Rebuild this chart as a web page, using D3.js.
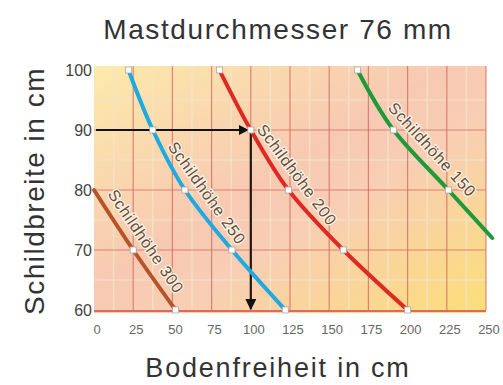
<!DOCTYPE html>
<html>
<head>
<meta charset="utf-8">
<script src="https://cdn.jsdelivr.net/npm/d3@7"></script>
<style>
  body { margin: 0; background: #fff; }
  text { font-family: "Liberation Sans", Arial, sans-serif; }
</style>
</head>
<body>
<svg></svg>
<script>
var width = 503;
var height = 385;

// chart data
var xTicks = [0, 25, 50, 75, 100, 125, 150, 175, 200, 225, 250];
var yTicks = [60, 70, 80, 90, 100];

var hoehe300 = [[0, 80], [25, 70], [52, 60]];
var hoehe250 = [[22, 100], [37.5, 90], [58, 80], [88, 70], [122, 60]];
var hoehe200 = [[80, 100], [100, 90], [124, 80], [159, 70], [200, 60]];
var hoehe150 = [[168, 100], [191, 90], [226, 80], [254, 72]];

var seriesNames = ["Schildhöhe 300", "Schildhöhe 250", "Schildhöhe 200", "Schildhöhe 150"];
var seriesColors = ["#b5532a", "#1ea9e0", "#dd2a22", "#1e9a3c"];
// Schildbreite at which each curve label sits
var labelAt = [70, 78, 81, 85];

// reading example: Schildbreite 90 cm -> Bodenfreiheit 100 cm
var example = [100, 90];

var x = d3.scaleLinear().domain([0, 250]).range([94, 486]);
var y = d3.scaleLinear().domain([60, 100]).range([310, 70]);

var svg = d3.select('svg')
	.attr('width', width)
	.attr('height', height);

var defs = svg.append('defs');
var grad = defs.append('linearGradient')
	.attr('id', 'bg')
	.attr('x1', '0').attr('y1', '0')
	.attr('x2', '1').attr('y2', '1');
grad.append('stop').attr('offset', '0%').attr('stop-color', '#fdeaaa');
grad.append('stop').attr('offset', '45%').attr('stop-color', '#f7c9b2');
grad.append('stop').attr('offset', '60%').attr('stop-color', '#f8ceb4');
grad.append('stop').attr('offset', '100%').attr('stop-color', '#fbdf78');

var marker = defs.append('marker')
	.attr('id', 'arrow')
	.attr('viewBox', '0 0 10 10')
	.attr('refX', 9).attr('refY', 5)
	.attr('markerWidth', 5).attr('markerHeight', 5)
	.attr('orient', 'auto');
marker.append('path').attr('d', 'M0,0 L10,5 L0,10 z').attr('fill', '#111');

// background
svg.append('rect')
	.attr('x', x(0))
	.attr('y', y(100) - 4)
	.attr('width', x(250) - x(0))
	.attr('height', y(60) - y(100) + 7)
	.attr('fill', 'url(#bg)');

var grid = svg.append('g');

// minor grid lines
grid.selectAll('.minorX')
	.data(d3.range(12.5, 250, 25))
	.enter().append('line')
	.attr('x1', d => x(d)).attr('x2', d => x(d))
	.attr('y1', y(100) - 4).attr('y2', y(60))
	.attr('stroke', '#f2e6c8').attr('stroke-width', 1.5).attr('opacity', 0.8);

grid.selectAll('.minorY')
	.data(d3.range(65, 100, 10))
	.enter().append('line')
	.attr('x1', x(0)).attr('x2', x(250))
	.attr('y1', d => y(d)).attr('y2', d => y(d))
	.attr('stroke', '#f2e2c8').attr('stroke-width', 1.5).attr('opacity', 0.8);

// major grid lines
grid.selectAll('.majorX')
	.data(xTicks.slice(1))
	.enter().append('line')
	.attr('x1', d => x(d)).attr('x2', d => x(d))
	.attr('y1', y(100) - 4).attr('y2', y(60))
	.attr('stroke', '#d2605a').attr('stroke-width', 1.2).attr('opacity', 0.7);

grid.selectAll('.majorY')
	.data(yTicks.slice(1, 4))
	.enter().append('line')
	.attr('x1', x(0)).attr('x2', x(250))
	.attr('y1', d => y(d)).attr('y2', d => y(d))
	.attr('stroke', '#d2605a').attr('stroke-width', 1.2).attr('opacity', 0.7);

grid.append('line')
	.attr('x1', x(0)).attr('x2', x(250))
	.attr('y1', y(60) + 1).attr('y2', y(60) + 1)
	.attr('stroke', '#de6a5e').attr('stroke-width', 2);

// reading example arrows
svg.append('line')
	.attr('x1', x(0) + 2).attr('x2', x(example[0]) - 3)
	.attr('y1', y(example[1])).attr('y2', y(example[1]))
	.attr('stroke', '#111').attr('stroke-width', 2)
	.attr('marker-end', 'url(#arrow)');

svg.append('line')
	.attr('x1', x(example[0])).attr('x2', x(example[0]))
	.attr('y1', y(example[1]) + 3).attr('y2', y(60) - 1)
	.attr('stroke', '#241612').attr('stroke-width', 2.2)
	.attr('marker-end', 'url(#arrow)');

// curves
var allSeries = [hoehe300, hoehe250, hoehe200, hoehe150];

var line = d3.line()
	.x(d => x(d[0]))
	.y(d => y(d[1]))
	.curve(d3.curveMonotoneY);

svg.selectAll('.curve')
	.data(allSeries)
	.enter().append('path')
	.attr('d', d => line(d))
	.attr('fill', 'none')
	.attr('stroke', (d, i) => seriesColors[i])
	.attr('stroke-width', 4)
	.attr('stroke-linecap', 'round');

// point markers (only at whole 10 cm steps, not at the edge points)
var pts = [];
allSeries.forEach(function(s, si) {
	s.forEach(function(p, pi) {
		if (p[1] % 10 === 0 && !(si === 0 && pi === 0)) pts.push(p);
	});
});

svg.selectAll('.pt')
	.data(pts)
	.enter().append('rect')
	.attr('x', d => x(d[0]) - 3)
	.attr('y', d => y(d[1]) - 3)
	.attr('width', 6).attr('height', 6)
	.attr('fill', '#fff')
	.attr('stroke', '#aaa')
	.attr('stroke-width', 0.8);

// curve labels, placed parallel to each curve
allSeries.forEach(function(s, i) {
	var v = labelAt[i];
	var along = d3.scaleLinear()
		.domain(s.map(d => d[1]))
		.range(s.map(d => d[0]));
	var px = x(along(v)), py = y(v);
	var ax = x(along(v + 5)), ay = y(v + 5);
	var bx = x(along(v - 5)), by = y(v - 5);
	var ang = Math.atan2(by - ay, bx - ax);
	var off = 14;
	px += Math.sin(ang) * off;
	py -= Math.cos(ang) * off;
	svg.append('text')
		.attr('transform', 'translate(' + px + ',' + py + ') rotate(' + (ang * 180 / Math.PI) + ')')
		.attr('text-anchor', 'middle')
		.attr('dominant-baseline', 'middle')
		.attr('font-size', 16)
		.attr('letter-spacing', 0.8)
		.attr('fill', '#5e4c3c')
		.attr('stroke', '#fff4e6')
		.attr('stroke-width', 2.5)
		.attr('paint-order', 'stroke')
		.text(seriesNames[i]);
});

// tick labels
svg.selectAll('.xt')
	.data(xTicks)
	.enter().append('text')
	.attr('x', d => x(d) + 3)
	.attr('y', 334)
	.attr('text-anchor', 'middle')
	.attr('font-size', 13)
	.attr('fill', '#666')
	.text(d => d);

svg.selectAll('.yt')
	.data(yTicks)
	.enter().append('text')
	.attr('x', 92)
	.attr('y', d => y(d) + 6)
	.attr('text-anchor', 'end')
	.attr('font-size', 16)
	.attr('fill', '#444')
	.text(d => d);

// titles
svg.append('text')
	.attr('x', 278)
	.attr('y', 39)
	.attr('text-anchor', 'middle')
	.attr('font-size', 28)
	.attr('letter-spacing', 1.6)
	.attr('fill', '#333')
	.text('Mastdurchmesser 76 mm');

svg.append('text')
	.attr('x', 278)
	.attr('y', 377)
	.attr('text-anchor', 'middle')
	.attr('font-size', 27)
	.attr('letter-spacing', 1.8)
	.attr('fill', '#333')
	.text('Bodenfreiheit in cm');

svg.append('text')
	.attr('transform', 'translate(44,191) rotate(-90)')
	.attr('text-anchor', 'middle')
	.attr('font-size', 28)
	.attr('letter-spacing', 1.5)
	.attr('fill', '#333')
	.text('Schildbreite in cm');
</script>
</body>
</html>
